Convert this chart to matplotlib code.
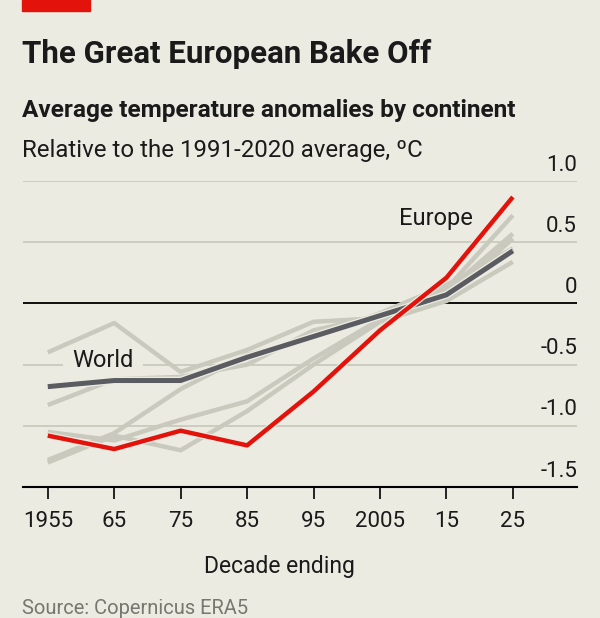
import matplotlib
matplotlib.use("Agg")
import matplotlib.pyplot as plt
import matplotlib.patheffects as pe
from matplotlib import transforms

plt.rcParams['font.family'] = ['Roboto', 'DejaVu Sans']

# données (anomalies en °C, moyenne par décennie)
decades = [1955, 1965, 1975, 1985, 1995, 2005, 2015, 2025]
tick_labels = ["1955", "65", "75", "85", "95", "2005", "15", "25"]

europe = [-1.08, -1.19, -1.04, -1.16, -0.72, -0.22, 0.21, 0.87]
world = [-0.68, -0.63, -0.63, -0.44, -0.27, -0.10, 0.07, 0.43]

# autres continents (en gris, sans étiquette)
other_1 = [-0.40, -0.16, -0.56, -0.38, -0.15, -0.12, 0.12, 0.72]
other_2 = [-0.83, -0.62, -0.60, -0.50, -0.22, -0.10, 0.10, 0.57]
other_3 = [-1.05, -1.12, -0.95, -0.80, -0.45, -0.13, 0.05, 0.53]
other_4 = [-1.28, -1.06, -0.70, -0.42, -0.28, -0.08, 0.15, 0.45]
other_5 = [-1.30, -1.08, -1.20, -0.88, -0.50, -0.15, 0.02, 0.34]

y_ticks = [-1.5, -1.0, -0.5, 0, 0.5, 1.0]
y_labels = ["-1.5", "-1.0", "-0.5", "0", "0.5", "1.0"]

bg = "#ecebe2"
grey = "#c9c9bd"
red = "#e3120b"
dark = "#5b5c61"
ink = "#1a1a1a"

fig = plt.figure(figsize=(6, 6.18), dpi=100, facecolor=bg)
ax = fig.add_axes([0.0383, 0.212, 0.9234, 0.495], facecolor=bg)

for serie in [other_1, other_2, other_3, other_4, other_5]:
    ax.plot(decades, serie, color=grey, linewidth=3.2, zorder=3, solid_capstyle="butt")

ax.plot(decades, world, color=dark, linewidth=3.6, zorder=4, solid_capstyle="butt",
        path_effects=[pe.Stroke(linewidth=5.5, foreground=bg), pe.Normal()])
ax.plot(decades, europe, color=red, linewidth=3.2, zorder=5, solid_capstyle="butt",
        path_effects=[pe.Stroke(linewidth=5, foreground=bg), pe.Normal()])

ax.set_xlim(1951.27, 2034.66)
ax.set_ylim(-1.5, 1.0)

# grille horizontale
ax.set_yticks(y_ticks)
ax.tick_params(axis="y", length=0, labelleft=False)
ax.grid(True, axis="y", color=grey, linewidth=1.3, zorder=0)
ax.axhline(0, color="black", linewidth=1.3, zorder=2)

ax.set_xticks(decades, tick_labels)
ax.tick_params(axis="x", direction="out", length=8.6, width=1.2, pad=9,
               labelsize=16, color="black", labelcolor=ink)

for s in ["left", "right", "top"]:
    ax.spines[s].set_visible(False)
ax.spines["bottom"].set_linewidth(1.5)

trans = transforms.blended_transform_factory(ax.transAxes, ax.transData)
for v, lab in zip(y_ticks, y_labels):
    ax.annotate(lab, xy=(1.0, v), xycoords=trans, xytext=(0, 11.5),
                textcoords="offset points", ha="right", va="center",
                fontsize=16, color=ink)

ax.text(1963.3, -0.463, "World", fontsize=17, ha="center", va="center", zorder=1.8,
        color=ink, bbox=dict(boxstyle="square,pad=0.4", facecolor=bg, edgecolor="none"))
ax.text(2013.4, 0.697, "Europe", fontsize=17, ha="center", va="center", zorder=1.8,
        color=ink)

# titres
fig.patches.append(plt.Rectangle((22 / 600, 1 - 10.7 / 618), 68 / 600, 10.7 / 618,
                                 transform=fig.transFigure, color=red, zorder=5))
fig.text(22 / 600, 1 - 63 / 618, "The Great European Bake Off", fontsize=22.5,
         fontweight="bold", va="baseline", ha="left", color=ink)
fig.text(22 / 600, 1 - 116.7 / 618, "Average temperature anomalies by continent",
         fontsize=17.6, fontweight="bold", va="baseline", ha="left", color=ink)
fig.text(22 / 600, 1 - 157 / 618, "Relative to the 1991-2020 average, ºC",
         fontsize=17.3, va="baseline", ha="left", color=ink)

fig.text(279.4 / 600, 1 - 566 / 618, "Decade ending", fontsize=16.5,
         ha="center", va="center", color=ink)
fig.text(22 / 600, 1 - 614 / 618, "Source: Copernicus ERA5", fontsize=14.5,
         ha="left", va="baseline", color="#77776f")

plt.savefig("out.png", dpi=100, facecolor=bg)
plt.close()
